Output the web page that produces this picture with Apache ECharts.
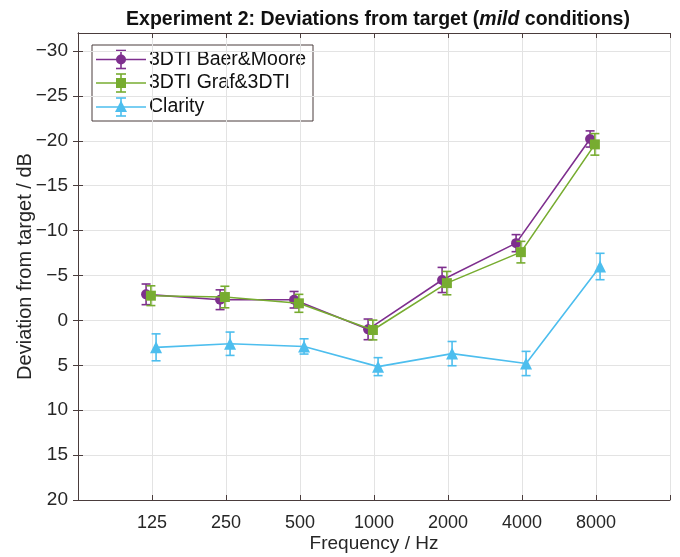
<!DOCTYPE html>
<html><head><meta charset="utf-8">
<script src="https://cdn.jsdelivr.net/npm/echarts@6/dist/echarts.min.js"></script>
<style>html,body{margin:0;padding:0;background:#fff}#c{width:680px;height:557px}</style>
</head><body><div id="c"></div>
<script>
const frequencies = ['125', '250', '500', '1000', '2000', '4000', '8000'];
const yTicks = [-30, -25, -20, -15, -10, -5, 0, 5, 10, 15, 20];
const seriesNames = ['3DTI Baer&Moore', '3DTI Graf&3DTI', 'Clarity'];
const baerMoore = [-2.9, -2.3, -2.3, 1.0, -4.5, -8.6, -20.2];
const baerMooreErr = [1.15, 1.1, 0.92, 1.15, 1.4, 0.95, 0.9];
const grafTDTI = [-2.75, -2.6, -1.9, 1.07, -4.15, -7.6, -19.6];
const grafTDTIErr = [1.1, 1.2, 1.0, 1.1, 1.3, 1.2, 1.2];
const clarity = [3.0, 2.6, 2.9, 5.15, 3.7, 4.8, -6.0];
const clarityErr = [1.5, 1.3, 0.85, 1.0, 1.35, 1.35, 1.47];
const xOffsets = [-0.08, -0.015, 0.055];

const colors = ['#7E2F8E', '#77AC30', '#4DBEEE'];
const symbols = ['circle', 'rect', 'triangle'];
const symbolSizes = [10, 10, 12];
const axisColor = '#4a3c3c';
const textColor = '#262626';
const FONT = 'Liberation Sans, Arial, sans-serif';

const values = [baerMoore, grafTDTI, clarity];
const errs = [baerMooreErr, grafTDTIErr, clarityErr];

function errRenderer(color) {
  return function (params, api) {
    const x = api.value(0), y = api.value(1), e = api.value(2);
    const top = api.coord([x, y - e]);
    const bot = api.coord([x, y + e]);
    const hw = 4.5;
    const style = { stroke: color, lineWidth: 1.6, fill: null };
    return {
      type: 'group', children: [
        { type: 'line', shape: { x1: top[0], y1: top[1], x2: bot[0], y2: bot[1] }, style: style },
        { type: 'line', shape: { x1: top[0] - hw, y1: top[1], x2: top[0] + hw, y2: top[1] }, style: style },
        { type: 'line', shape: { x1: bot[0] - hw, y1: bot[1], x2: bot[0] + hw, y2: bot[1] }, style: style }
      ]
    };
  };
}

const series = [];
values.forEach(function (vals, s) {
  const pts = vals.map(function (v, i) { return [i + 1 + xOffsets[s], v, errs[s][i]]; });
  series.push({
    type: 'custom', name: seriesNames[s] + ' err', renderItem: errRenderer(colors[s]),
    data: pts, encode: { x: 0, y: 1 }, z: 2 + s * 2, silent: true
  });
  series.push({
    type: 'line', name: seriesNames[s], data: pts.map(function (p) { return [p[0], p[1]]; }),
    symbol: symbols[s], symbolSize: symbolSizes[s], showSymbol: true,
    lineStyle: { color: colors[s], width: 1.6 },
    itemStyle: { color: colors[s], borderWidth: 0 },
    z: 3 + s * 2, animation: false
  });
});

// Legend (drawn as graphic so the icons include error bars)
const legendX = 92, legendY = 45, legendW = 221, legendH = 76;
const rowY = [59.5, 83, 107];
const legendChildren = [
  { type: 'rect', shape: { x: legendX, y: legendY, width: legendW, height: legendH },
    style: { fill: '#fff', stroke: axisColor, lineWidth: 1 } }
];
seriesNames.forEach(function (name, s) {
  const y = rowY[s], cx = 121;
  const st = { stroke: colors[s], lineWidth: 1.6, fill: null };
  legendChildren.push({ type: 'line', shape: { x1: 96, y1: y, x2: 146, y2: y }, style: st });
  legendChildren.push({ type: 'line', shape: { x1: cx, y1: y - 9, x2: cx, y2: y + 9 }, style: st });
  legendChildren.push({ type: 'line', shape: { x1: cx - 5, y1: y - 9, x2: cx + 5, y2: y - 9 }, style: st });
  legendChildren.push({ type: 'line', shape: { x1: cx - 5, y1: y + 9, x2: cx + 5, y2: y + 9 }, style: st });
  if (s === 0) legendChildren.push({ type: 'circle', shape: { cx: cx, cy: y, r: 5 }, style: { fill: colors[s] } });
  if (s === 1) legendChildren.push({ type: 'rect', shape: { x: cx - 5, y: y - 5, width: 10, height: 10 }, style: { fill: colors[s] } });
  if (s === 2) legendChildren.push({ type: 'polygon', shape: { points: [[cx, y - 6.5], [cx - 6, y + 5], [cx + 6, y + 5]] }, style: { fill: colors[s] } });
  legendChildren.push({ type: 'text', x: 149, y: y, style: { text: name, verticalAlign: 'middle', align: 'left',
    font: '19.5px ' + FONT, fill: '#111' } });
});

function fmtY(v) { return v < 0 ? '\u2212' + Math.abs(v) : String(v); }

const yAxisBase = {
  type: 'value', inverse: true, min: -32, max: 20,
  axisLine: { show: true, lineStyle: { color: axisColor, width: 1 } },
  axisTick: { show: true, inside: true, length: 5, customValues: yTicks, lineStyle: { color: axisColor } },
  axisLabel: { customValues: yTicks, color: textColor, fontSize: 19, fontFamily: FONT, margin: 10, formatter: fmtY },
  splitLine: { show: true, lineStyle: { color: '#e3e3e3', width: 1 } }
};
const xAxisBase = {
  type: 'value', min: 0, max: 8, interval: 1,
  axisLine: { show: true, onZero: false, lineStyle: { color: axisColor, width: 1 } },
  axisTick: { show: true, inside: true, length: 5, lineStyle: { color: axisColor } },
  axisLabel: {
    color: textColor, fontSize: 18, fontFamily: FONT, margin: 14,
    formatter: function (v) { return (v >= 1 && v <= 7) ? frequencies[v - 1] : ''; }
  },
  splitLine: { show: true, lineStyle: { color: '#e3e3e3', width: 1 } }
};

const option = {
  backgroundColor: '#fff',
  animation: false,
  title: {
    text: 'Experiment 2: Deviations from target ({i|mild} conditions)',
    left: 373, top: 5, textAlign: 'center',
    textStyle: { fontSize: 19.5, fontWeight: 'bold', color: '#111', fontFamily: FONT,
      rich: { i: { fontSize: 19.5, fontWeight: 'bold', fontStyle: 'italic', color: '#111', fontFamily: FONT } } }
  },
  grid: { left: 78, right: 10, top: 33, bottom: 57, containLabel: false, outerBoundsMode: 'none' },
  xAxis: [
    Object.assign({}, xAxisBase, { position: 'bottom', name: 'Frequency / Hz', nameLocation: 'middle', nameGap: 34,
      nameMoveOverlap: false,
      nameTextStyle: { fontSize: 19, color: textColor, fontFamily: FONT } }),
    Object.assign({}, xAxisBase, { position: 'top', axisLabel: { show: false }, splitLine: { show: false } })
  ],
  yAxis: [
    Object.assign({}, yAxisBase, { position: 'left', name: 'Deviation from target / dB', nameLocation: 'middle', nameGap: 43,
      nameMoveOverlap: false,
      nameTextStyle: { fontSize: 20, color: textColor, fontFamily: FONT } }),
    Object.assign({}, yAxisBase, { position: 'right', axisLabel: { show: false }, splitLine: { show: false } })
  ],
  graphic: [{ type: 'group', z: 100, children: legendChildren }],
  series: series
};

const chart = echarts.init(document.getElementById('c'), null, { renderer: 'canvas' });
chart.setOption(option);
</script>
</body></html>
